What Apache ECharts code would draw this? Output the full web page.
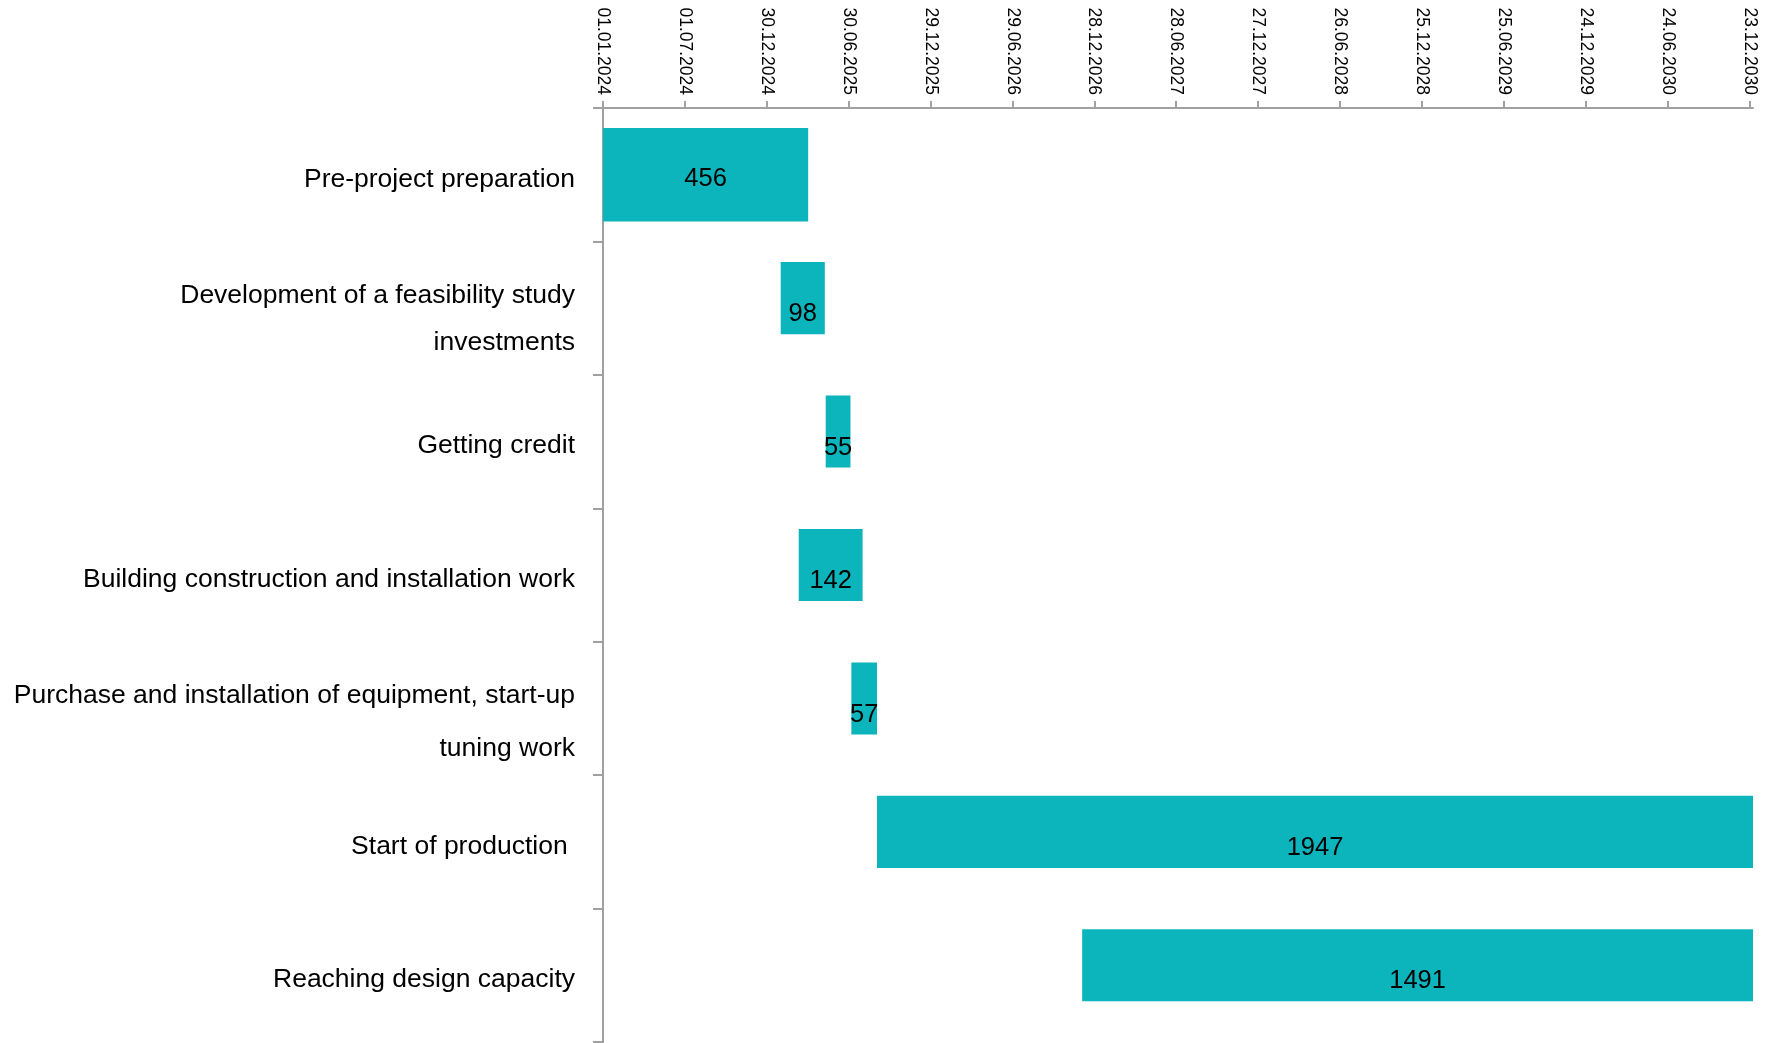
<!DOCTYPE html>
<html>
<head>
<meta charset="utf-8">
<title>Project schedule</title>
<script src="https://cdn.jsdelivr.net/npm/echarts@6/dist/echarts.min.js"></script>
<style>
  html, body { margin: 0; padding: 0; background: #ffffff; }
  #chart { width: 1780px; height: 1043px; }
</style>
</head>
<body>
<div id="chart"></div>
<script>
// Project phases, top to bottom
const phases = [
  'Pre-project preparation',
  'Development of a feasibility study\ninvestments',
  'Getting credit',
  'Building construction and installation work',
  'Purchase and installation of equipment, start-up\ntuning work',
  'Start of production ',
  'Reaching design capacity'
];

// Start date of each phase (ISO)
const startDates = [
  '2024-01-01',
  '2025-01-30',
  '2025-05-10',
  '2025-03-11',
  '2025-07-06',
  '2025-09-01',
  '2026-12-01'
];

// Duration of each phase, days
const durations = [456, 98, 55, 142, 57, 1947, 1491];

// Dates shown on the time scale
const tickDates = [
  '01.01.2024', '01.07.2024', '30.12.2024', '30.06.2025', '29.12.2025',
  '29.06.2026', '28.12.2026', '28.06.2027', '27.12.2027', '26.06.2028',
  '25.12.2028', '25.06.2029', '24.12.2029', '24.06.2030', '23.12.2030'
];

const scaleStart = '2024-01-01';
const scaleEnd = '2030-12-31';

const DAY = 86400000;
function isoToDays(iso) {
  const [y, m, d] = iso.split('-').map(Number);
  const [y0, m0, d0] = scaleStart.split('-').map(Number);
  return Math.round((Date.UTC(y, m - 1, d) - Date.UTC(y0, m0 - 1, d0)) / DAY);
}
function dmyToDays(s) {
  const [d, m, y] = s.split('.');
  return isoToDays(y + '-' + m + '-' + d);
}
function daysToDmy(n) {
  const [y0, m0, d0] = scaleStart.split('-').map(Number);
  const t = new Date(Date.UTC(y0, m0 - 1, d0) + n * DAY);
  const pad = v => String(v).padStart(2, '0');
  return pad(t.getUTCDate()) + '.' + pad(t.getUTCMonth() + 1) + '.' + t.getUTCFullYear();
}

const tickDays = tickDates.map(dmyToDays);
const axisMax = isoToDays(scaleEnd);

const taskData = phases.map((name, i) => {
  const s = isoToDays(startDates[i]);
  return [i, s, s + durations[i], durations[i]];
});

const barColor = '#0cb4bb';
const axisColor = '#a0a0a0';
const fontFamily = '"Liberation Sans", Arial, Helvetica, sans-serif';

// Phase names: a small spacer line on top pushes each name slightly below
// the middle of its row; two-line names use a looser line spacing.
const nameFont = { fontSize: 26.5, fontFamily: fontFamily, color: '#000000' };
const gapFont = { fontSize: 1, fontFamily: fontFamily, color: 'rgba(0,0,0,0)' };
const nameRich = {
  gs: Object.assign({ lineHeight: 9 }, gapFont),
  s: Object.assign({ lineHeight: 30 }, nameFont),
  gm: Object.assign({ lineHeight: 23 }, gapFont),
  m: Object.assign({ lineHeight: 47 }, nameFont),
  gw: Object.assign({ lineHeight: 28 }, gapFont),
  w: Object.assign({ lineHeight: 53 }, nameFont)
};
function formatPhase(value, index) {
  const lines = value.split('\n');
  const key = lines.length === 1 ? 's' : (index === 4 ? 'w' : 'm');
  return '{g' + key + '| }\n' + lines.map(l => '{' + key + '|' + l + '}').join('\n');
}

const chart = echarts.init(document.getElementById('chart'), null, { renderer: 'canvas' });

chart.setOption({
  backgroundColor: '#ffffff',
  animation: false,
  grid: { left: 603, right: 27, top: 108, bottom: 1, containLabel: false },
  xAxis: {
    type: 'value',
    position: 'top',
    min: 0,
    max: axisMax,
    interval: 182,
    splitLine: { show: false },
    axisLine: { show: true, lineStyle: { color: axisColor, width: 2 } },
    axisTick: { show: true, length: 7, customValues: tickDays, lineStyle: { color: axisColor, width: 2 } },
    axisLabel: {
      customValues: tickDays,
      rotate: 90,
      margin: 13,
      fontSize: 17.5,
      fontFamily: fontFamily,
      color: '#000000',
      formatter: v => daysToDmy(v)
    }
  },
  yAxis: {
    type: 'category',
    data: phases,
    inverse: true,
    axisLine: { show: true, lineStyle: { color: axisColor, width: 2 } },
    axisTick: { show: true, length: 10, lineStyle: { color: axisColor, width: 2 } },
    axisLabel: {
      margin: 28,
      fontSize: 26.5,
      fontFamily: fontFamily,
      color: '#000000',
      align: 'right',
      formatter: formatPhase,
      rich: nameRich
    },
    splitLine: { show: false }
  },
  series: [{
    type: 'custom',
    encode: { x: [1, 2], y: 0 },
    data: taskData,
    renderItem: function (params, api) {
      const cat = api.value(0);
      const p0 = api.coord([api.value(1), cat]);
      const p1 = api.coord([api.value(2), cat]);
      const band = api.size([0, 1])[1];
      // the opening phase is drawn as a thicker, centred bar
      const lead = params.dataIndex === 0;
      const h = band * (lead ? 0.70 : 0.54);
      const cy = p0[1] + (lead ? 0 : -band * 0.075);
      const cs = params.coordSys;
      const shape = echarts.graphic.clipRectByRect(
        { x: p0[0], y: cy - h / 2, width: p1[0] - p0[0], height: h },
        { x: cs.x, y: cs.y, width: cs.width, height: cs.height }
      );
      return {
        type: 'group',
        children: [
          { type: 'rect', shape: shape, style: { fill: barColor } },
          {
            type: 'text',
            x: (p0[0] + p1[0]) / 2,
            y: p0[1] + band * (lead ? 0.033 : 0.046),
            style: {
              text: String(api.value(3)),
              fill: '#000000',
              fontSize: 25.5,
              fontFamily: fontFamily,
              align: 'center',
              verticalAlign: 'middle'
            }
          }
        ]
      };
    }
  }]
});
</script>
</body>
</html>
